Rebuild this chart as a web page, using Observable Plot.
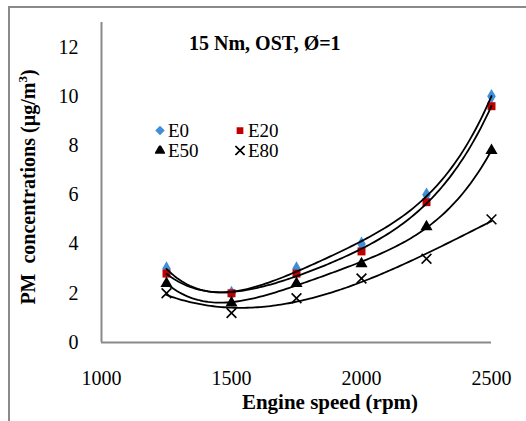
<!DOCTYPE html>
<html>
<head>
<meta charset="utf-8">
<script src="https://cdn.jsdelivr.net/npm/d3@7"></script>
<script src="https://cdn.jsdelivr.net/npm/@observablehq/plot@0.6"></script>
<style>
  html, body { margin: 0; padding: 0; background: #fff; }
  #chart { position: relative; width: 526px; height: 421px; overflow: hidden;
           font-family: "Liberation Serif", "Times New Roman", "DejaVu Serif", serif; color: #000; }
  #frame { position: absolute; left: 8px; top: 6px; width: 600px; height: 500px;
           border-left: 2px solid #8a8a8a; border-top: 2px solid #8a8a8a; }
  .lbl { position: absolute; white-space: nowrap; line-height: 1; }
  .bold { font-weight: bold; }
  .leg { position: absolute; display: flex; align-items: center; font-size: 19px; line-height: 17px; height: 17px; white-space: nowrap; }
  .leg svg { margin-right: 3px; }
</style>
</head>
<body>
<div id="chart">
  <div id="frame"></div>
</div>
<script>
// Engine speed (rpm) and PM concentration (µg/m³) per blend
const speeds = [1250, 1500, 1750, 2000, 2250, 2500];
const blends = ["E0", "E20", "E50", "E80"];
const pmE0  = [3.0, 2.0, 3.0, 4.0, 6.0, 10.0];
const pmE20 = [2.8, 2.0, 2.8, 3.7, 5.7, 9.6];
const pmE50 = [2.4, 1.6, 2.4, 3.2, 4.7, 7.8];
const pmE80 = [2.0, 1.2, 1.8, 2.6, 3.4, 5.0];
const xTicks = [1000, 1500, 2000, 2500];
const yTicks = [0, 2, 4, 6, 8, 10, 12];

const seriesValues = {E0: pmE0, E20: pmE20, E50: pmE50, E80: pmE80};
// polynomial order of each blend's trend line
const trendOrder = {E0: 4, E20: 4, E50: 4, E80: 3};
const symbols = {E0: "diamond", E20: "square", E50: "triangle", E80: "times"};
const fills = {E0: "#3f8fd8", E20: "#c00000", E50: "#000", E80: "none"};

const points = blends.flatMap(b => speeds.map((s, i) => ({blend: b, speed: s, pm: seriesValues[b][i]})));

// Least-squares polynomial trend line for each blend
function polyFit(xs, ys, order) {
  const n = order + 1;
  const A = Array.from({length: n}, () => new Array(n + 1).fill(0));
  xs.forEach((x, k) => {
    for (let i = 0; i < n; i++) {
      for (let j = 0; j < n; j++) A[i][j] += Math.pow(x, i + j);
      A[i][n] += ys[k] * Math.pow(x, i);
    }
  });
  for (let c = 0; c < n; c++) {
    let p = c;
    for (let r = c + 1; r < n; r++) if (Math.abs(A[r][c]) > Math.abs(A[p][c])) p = r;
    [A[c], A[p]] = [A[p], A[c]];
    for (let r = 0; r < n; r++) {
      if (r === c) continue;
      const f = A[r][c] / A[c][c];
      for (let k = c; k <= n; k++) A[r][k] -= f * A[c][k];
    }
  }
  return A.map((row, i) => row[n] / row[i]);
}
const norm = s => (s - 1875) / 250;
const trend = blends.flatMap(b => {
  const coef = polyFit(speeds.map(norm), seriesValues[b], trendOrder[b]);
  return d3.range(1250, 2500.1, 10).map(s => ({
    blend: b, speed: s,
    pm: coef.reduce((acc, c, i) => acc + c * Math.pow(norm(s), i), 0)
  }));
});

const plot = Plot.plot({
  width: 526,
  height: 421,
  marginLeft: 101,
  marginRight: 35,
  marginTop: 22,
  marginBottom: 79,
  style: {fontFamily: "'Liberation Serif', 'Times New Roman', 'DejaVu Serif', serif", fontSize: "20px", background: "transparent", color: "#000"},
  x: {domain: [1000, 2500]},
  y: {domain: [0, 13]},
  marks: [
    Plot.ruleY([0], {stroke: "#8a8a8a", strokeWidth: 2}),
    Plot.ruleX([1000], {y1: 0, y2: 13, stroke: "#8a8a8a", strokeWidth: 2}),
    Plot.axisX({ticks: xTicks, tickSize: 0, tickPadding: 28, label: null, tickFormat: d => String(d)}),
    Plot.axisY({ticks: yTicks, tickSize: 0, tickPadding: 23, label: null}),
    Plot.dot(points, {
      x: "speed", y: "pm",
      symbol: d => symbols[d.blend],
      fill: d => fills[d.blend],
      stroke: d => d.blend === "E80" ? "#000" : "none",
      strokeWidth: 1.6,
      r: 4.5
    }),
    Plot.line(trend, {x: "speed", y: "pm", z: "blend", stroke: "#000", strokeWidth: 1.8})
  ]
});
plot.style.position = "absolute";
plot.style.left = "0";
plot.style.top = "0";
const chart = document.getElementById("chart");
chart.appendChild(plot);

function addLabel(html, x, y, size, cls, transform) {
  const d = document.createElement("div");
  d.className = "lbl " + cls;
  d.innerHTML = html;
  d.style.left = x + "px";
  d.style.top = y + "px";
  d.style.fontSize = size + "px";
  d.style.transform = transform;
  chart.appendChild(d);
}
addLabel("15 Nm, OST, Ø=1", 189, 43, 20, "bold", "translate(0,-50%)");
addLabel("Engine speed (rpm)", 330, 402, 21, "bold", "translate(-50%,-50%)");
addLabel("PM&nbsp; concentrations (µg/m<sup style='font-size:13px;line-height:0'>3</sup>)", 28, 187, 20, "bold",
         "translate(-50%,-50%) rotate(-90deg)");

// Legend entries
const legendPos = {E0: [155, 130], E20: [235, 130], E50: [155, 150], E80: [235, 150]};
blends.forEach(b => {
  const item = document.createElement("div");
  item.className = "leg";
  item.style.left = legendPos[b][0] + "px";
  item.style.top = legendPos[b][1] + "px";
  item.style.transform = "translate(0,-50%)";
  const sym = d3.create("svg").attr("width", 10).attr("height", 10);
  const symType = {diamond: d3.symbolDiamond2, square: d3.symbolSquare2, triangle: d3.symbolTriangle, times: d3.symbolTimes}[symbols[b]];
  sym.append("path")
    .attr("transform", "translate(5,5)")
    .attr("d", d3.symbol(symType, 58)())
    .attr("fill", fills[b])
    .attr("stroke", b === "E80" ? "#000" : "none")
    .attr("stroke-width", 1.6);
  item.appendChild(sym.node());
  const t = document.createElement("span");
  t.textContent = b;
  item.appendChild(t);
  chart.appendChild(item);
});
</script>
</body>
</html>
